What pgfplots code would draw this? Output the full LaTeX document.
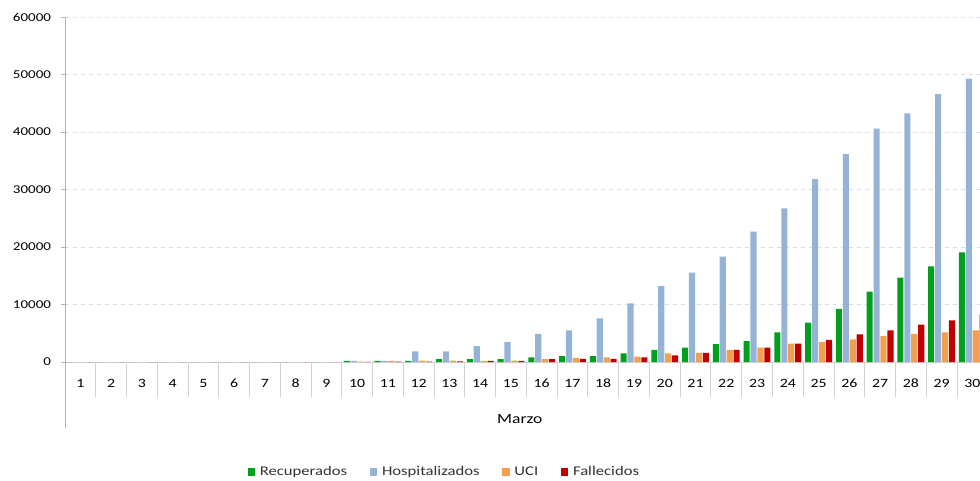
\documentclass[border=0pt]{standalone}
\usepackage{fontspec}
\setmainfont{Carlito}[FakeStretch=1.25]
\usepackage{pgfplots}
\usepackage{pgfplotstable}
\pgfplotsset{compat=1.18}
\definecolor{cR}{HTML}{00A01E}
\definecolor{cH}{HTML}{95B3D7}
\definecolor{cU}{HTML}{F0A050}
\definecolor{cF}{HTML}{C00000}
\definecolor{gridc}{HTML}{D3DFEF}
\pgfplotstableread{
d R H U F
1 0 0 0 0
2 0 0 0 0
3 0 0 0 0
4 0 0 0 0
5 0 0 0 0
6 0 0 0 0
7 0 0 0 0
8 0 0 0 0
9 0 0 0 0
10 200 200 50 30
11 200 200 200 50
12 200 1850 250 80
13 500 1850 250 120
14 500 2780 200 200
15 520 3480 250 200
16 800 4870 500 500
17 1040 5510 700 550
18 1040 7600 800 550
19 1510 10200 920 810
20 2090 13200 1510 1160
21 2490 15530 1600 1600
22 3130 18320 2090 2090
23 3650 22670 2490 2490
24 5160 26720 3190 3190
25 6840 31800 3480 3830
26 9220 36170 3940 4810
27 12230 40580 4520 5510
28 14670 43250 4870 6490
29 16640 46600 5160 7250
30 19070 49270 5510 8190
}\datatable
\begin{document}
\begin{tikzpicture}
\begin{axis}[
  scale only axis, width=686.25pt, height=258.75pt,
  xmin=0.5, xmax=30.25, ymin=0, ymax=60000,
  axis x line*=bottom, axis y line*=left,
  x axis line style={gray!35},
  y axis line style={gray!60},
  ybar=0.6pt, bar width=4.6pt,
  xtick={1,...,30},
  xticklabels={1,2,3,4,5,6,7,8,9,10,11,12,13,14,15,16,17,18,19,20,21,22,23,24,25,26,27,28,29,30},
  major x tick style={draw=none},
  minor xtick={1.5,2.5,...,29.5},
  minor tick length=26pt,
  minor x tick style={gray!35, line width=0.6pt},
  major tick length=3pt,
  tick align=outside,
  scaled y ticks=false,
  ytick={0,10000,...,60000},
  yticklabels={0,10000,20000,30000,40000,50000,60000},
  y tick style={gray!60},
  ymajorgrids, grid style={gridc, dashed},
  xticklabel style={font=\fontsize{9.5}{11}\selectfont, text=black, anchor=base, yshift=-16pt},
  yticklabel style={font=\fontsize{9}{10}\selectfont, text=black, xshift=-4pt},
  xlabel={Marzo},
  xlabel style={at={(axis description cs:0.497,-0.178)}, anchor=base, font=\fontsize{10.5}{12}\selectfont, text=black},
  legend style={at={(axis description cs:0.415,-0.319)}, anchor=center, draw=none,
    font=\fontsize{10}{12}\selectfont, text=black!80,
    /tikz/every even column/.append style={column sep=15pt},
    /tikz/every odd column/.append style={column sep=1.5pt}},
  legend columns=4,
  legend image code/.code={\fill[#1] (0pt,-2.8pt) rectangle (5.6pt,2.8pt);},
]
\addplot[fill=cR, draw=none] table[x=d, y=R] {\datatable};
\addplot[fill=cH, draw=none] table[x=d, y=H] {\datatable};
\addplot[fill=cU, draw=none] table[x=d, y=U] {\datatable};
\addplot[fill=cF, draw=none] table[x=d, y=F] {\datatable};
\legend{Recuperados, Hospitalizados, UCI, Fallecidos}
\end{axis}
\draw[gray!60] (0,0) -- (0,-49.5pt);
\pgfresetboundingbox
\useasboundingbox (-48.75pt,-89.25pt) rectangle (686.25pt,271.5pt);
\end{tikzpicture}
\end{document}
